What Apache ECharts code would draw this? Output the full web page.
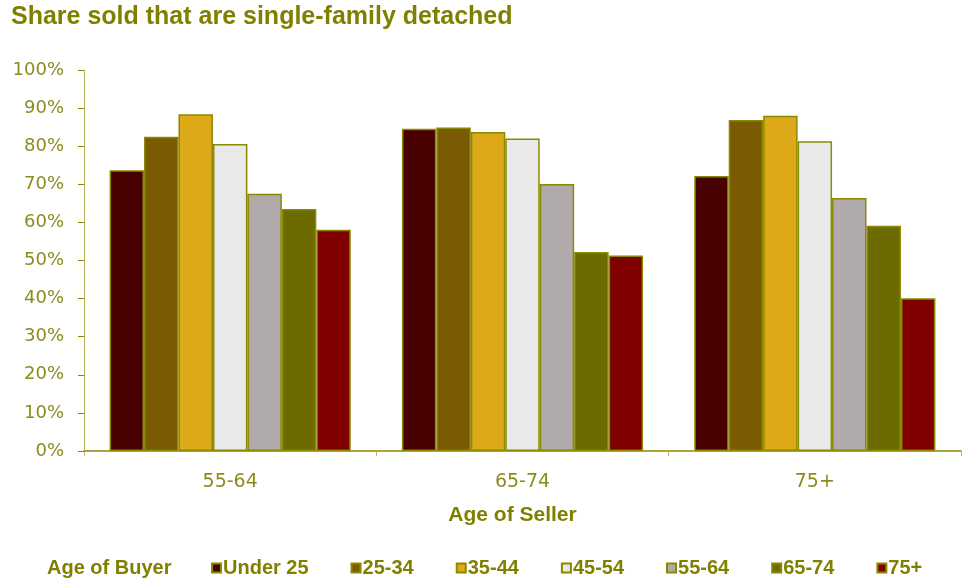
<!DOCTYPE html>
<html>
<head>
<meta charset="utf-8">
<script src="https://cdn.jsdelivr.net/npm/echarts@6/dist/echarts.min.js"></script>
<style>
html, body { margin: 0; padding: 0; background: #fff; }
#grafico { width: 964px; height: 584px; }
</style>
</head>
<body>
<div id="grafico"></div>
<script>
// age of seller (categories)
var sellerAges = ["55-64", "65-74", "75+"];
// age of buyer (series)
var buyerAges = ["Under 25", "25-34", "35-44", "45-54", "55-64", "65-74", "75+"];
var buyerColors = ["#480000", "#7B5A04", "#DEA919", "#E9E9E9", "#B0AAAA", "#6C6B00", "#800000"];

// share single-family detached, % (one array per buyer age, across seller ages)
var under25 = [73.7, 84.6, 72.2];
var age25to34 = [82.5, 84.9, 86.9];
var age35to44 = [88.4, 83.7, 88.0];
var age45to54 = [80.6, 82.0, 81.3];
var age55to64 = [67.5, 70.1, 66.4];
var age65to74 = [63.5, 52.2, 59.1];
var age75plus = [58.1, 51.3, 40.1];
var valores = [under25, age25to34, age35to44, age45to54, age55to64, age65to74, age75plus];

var oliva = "#808000";
var textoEje = "#8C8C1E";

function crearSeries(){
    var retornar = [];
    buyerAges.forEach(function(nombre, i){
        retornar.push({
            name: nombre,
            type: "bar",
            data: valores[i],
            barGap: "0%",
            barCategoryGap: "17.5%",
            itemStyle: { color: buyerColors[i], borderColor: "#8A8A00", borderWidth: 1.5 }
        });
    });
    return retornar;
}

function grafico(){
    var dom = document.getElementById("grafico");
    var myChart = echarts.init(dom, null, { renderer: "canvas" });
    var option = {
        animation: false,
        title: {
            text: "Share sold that are single-family detached",
            left: 6,
            top: 0,
            textStyle: { fontFamily: "Liberation Sans", fontWeight: "bold", fontSize: 25, color: oliva }
        },
        legend: {
            data: buyerAges,
            left: 206,
            top: 553,
            itemWidth: 9,
            itemHeight: 9,
            itemGap: 42,
            icon: "rect",
            textStyle: { fontFamily: "Liberation Sans", fontWeight: "bold", fontSize: 20, color: oliva, padding: [0, 0, 0, -3] }
        },
        graphic: [{
            type: "text",
            left: 47,
            top: 558,
            style: { text: "Age of Buyer", font: "bold 20px 'Liberation Sans'", fill: oliva }
        }],
        grid: { left: 84, right: 3, top: 70, bottom: 133 },
        xAxis: {
            type: "category",
            data: sellerAges,
            name: "Age of Seller",
            nameLocation: "middle",
            nameGap: 54,
            nameTextStyle: { fontFamily: "Liberation Sans", fontWeight: "bold", fontSize: 21, color: oliva, padding: [0, 20, 0, 0] },
            axisLine: { lineStyle: { color: "#8A8A00", width: 1.5 } },
            axisTick: { show: true, alignWithLabel: false, length: 5, lineStyle: { color: "#B5B560" } },
            axisLabel: { fontFamily: "DejaVu Sans", fontSize: 19, color: textoEje, margin: 22 }
        },
        yAxis: {
            type: "value",
            min: 0,
            max: 100,
            interval: 10,
            axisLine: { show: true, lineStyle: { color: "#B5B560", width: 1 } },
            axisTick: { show: true, length: 6, lineStyle: { color: "#8A8A00" } },
            splitLine: { show: false },
            axisLabel: { formatter: "{value}%", fontFamily: "DejaVu Sans", fontSize: 18, color: textoEje, margin: 20 }
        },
        series: crearSeries()
    };
    myChart.setOption(option, true);
}

grafico();
</script>
</body>
</html>
